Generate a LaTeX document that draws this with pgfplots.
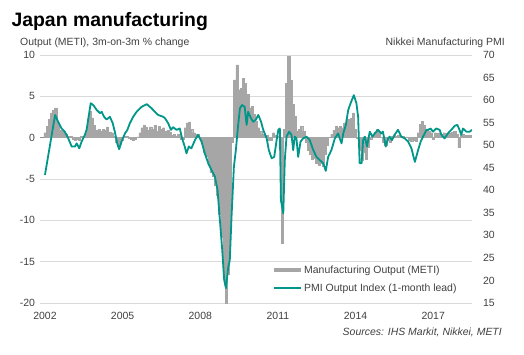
\documentclass[border=0pt]{standalone}
\usepackage{pgfplots}
\usepackage{pgfplotstable}
\pgfplotsset{compat=1.18}
\usepackage{fontspec}
\setmainfont{Liberation Sans}
\definecolor{bargray}{HTML}{A6A6A6}
\definecolor{tealc}{HTML}{00968A}
\definecolor{gridc}{HTML}{D9D9D9}
\definecolor{txt}{HTML}{404040}

% Manufacturing output (METI), 3m-on-3m % change; m = months since Jan 2002
\pgfplotstableread{
m v
0 0.6
1 1.4
2 2.2
3 3.0
4 3.3
5 3.6
6 1.6
7 0.9
8 0.8
9 0.7
10 0.4
11 0.2
12 0.2
13 -0.2
14 -0.3
15 -0.2
16 -0.3
17 0.2
18 0.2
19 0.6
20 2.2
21 3.2
22 2.4
23 1.5
24 0.9
25 1.0
26 0.8
27 1.0
28 0.9
29 1.3
30 0.7
31 0.6
32 0.2
33 -0.6
34 -1.0
35 -0.8
36 -0.3
37 0.2
38 0.2
39 -0.1
40 -0.2
41 -0.3
42 -0.2
43 0.1
44 0.6
45 1.2
46 1.5
47 1.3
48 0.9
49 1.3
50 1.0
51 1.5
52 0.8
53 1.4
54 1.0
55 1.2
56 0.8
57 0.9
58 0.7
59 0.3
60 0.4
61 0.2
62 0.4
63 -0.2
64 -0.2
65 1.2
66 1.8
67 1.9
68 1.0
69 0.6
70 0.4
71 0.4
72 0.1
73 -0.6
74 -1.8
75 -2.3
76 -3.3
77 -4.2
78 -4.7
79 -5.7
80 -7.0
81 -9.3
82 -12.0
83 -16.5
84 -20.0
85 -16.5
86 -11.0
87 -0.5
88 7.0
89 8.8
90 5.8
91 6.0
92 7.2
93 6.6
94 5.2
95 3.6
96 3.8
97 2.8
98 2.0
99 1.2
100 0.8
101 0.4
102 0.3
103 0.3
104 -0.3
105 -0.3
106 0.6
107 0.3
108 0.2
109 -1.5
110 -12.8
111 1.0
112 6.6
113 9.8
114 7.0
115 4.0
116 2.6
117 0.8
118 1.0
119 1.4
120 0.8
121 -0.5
122 -1.5
123 -2.0
124 -2.6
125 -2.5
126 -3.1
127 -3.3
128 -3.1
129 -3.5
130 -2.0
131 -0.9
132 0.0
133 0.4
134 0.9
135 1.4
136 1.2
137 1.4
138 1.2
139 1.8
140 2.2
141 2.2
142 2.3
143 3.0
144 1.0
145 -0.1
146 -1.5
147 -2.7
148 -1.8
149 -2.6
150 -1.2
151 -0.2
152 0.3
153 0.7
154 1.0
155 0.7
156 0.0
157 -0.5
158 -0.9
159 -0.3
160 -0.6
161 0.2
162 0.3
163 0.2
164 0.3
165 0.1
166 0.2
167 0.0
168 0.1
169 -0.3
170 -0.4
171 -0.3
172 -0.4
173 0.6
174 1.6
175 2.0
176 1.5
177 1.0
178 0.8
179 0.6
180 -0.2
181 0.6
182 0.5
183 0.6
184 0.4
185 0.6
186 0.5
187 0.6
188 0.5
189 0.7
190 0.8
191 0.4
192 -1.2
193 0.3
194 0.4
195 0.3
196 0.3
197 0.3
}\outputtable

% PMI Output Index (1-month lead)
\pgfplotstableread{
m p
0 43.4
4.7 56.7
6.1 55.2
7.7 53.7
9.2 53.0
10.8 51.5
12.4 49.7
13.9 49.7
14.7 50.4
15.9 49.3
17.0 50.8
18.5 52.3
19.3 53.4
20.5 57.1
21.2 59.3
22.4 58.9
24.0 57.8
25.5 57.1
26.3 57.4
27.4 56.3
28.6 55.7
30.1 56.3
31.4 54.9
32.4 53.0
33.5 50.4
34.4 49.1
35.5 50.8
37.1 52.6
38.2 53.4
39.4 54.9
40.9 56.3
42.5 57.4
44.8 58.5
47.2 59.1
49.4 58.2
51.0 57.4
52.5 56.7
54.8 56.3
55.6 56.0
57.1 54.9
58.4 53.4
59.4 54.0
61.0 53.4
62.5 53.7
63.6 51.5
64.8 49.7
65.6 48.2
66.7 49.7
67.9 49.3
69.5 51.1
71.0 52.3
72.6 50.8
74.1 48.2
75.7 46.0
77.2 44.5
78.8 43.0
80.0 40.1
81.1 33.4
82.2 26.7
83.1 20.1
83.9 18.3
85.0 23.0
85.7 24.5
86.5 34.1
87.6 45.2
88.5 48.9
89.5 54.1
90.4 58.2
91.4 58.9
92.6 58.5
93.5 54.5
94.2 57.4
95.5 56.0
96.5 55.2
97.7 55.6
98.9 56.7
100.2 55.2
101.2 53.4
102.8 51.5
103.8 48.9
105.1 47.1
106.3 47.4
107.4 51.1
108.2 53.4
108.9 53.7
109.4 37.8
110.5 34.9
111.2 46.7
112.0 51.9
113.2 53.0
114.3 52.3
115.1 48.9
115.8 51.9
116.6 51.5
117.4 47.4
118.5 50.8
119.7 51.5
121.3 51.9
122.8 51.1
124.4 48.9
125.9 47.4
127.4 46.7
129.0 46.0
130.2 44.3
131.3 47.4
132.8 48.9
134.4 51.5
135.9 52.6
137.5 50.4
138.3 52.6
139.5 54.5
140.6 57.8
141.7 59.3
143.2 61.1
144.4 59.3
145.2 56.3
145.9 46.0
146.8 46.0
147.5 51.1
148.3 51.9
149.3 49.7
150.6 53.0
151.8 51.9
152.9 52.6
154.4 53.4
156.0 52.6
156.7 53.0
158.0 49.7
159.1 51.5
159.8 51.9
160.9 51.1
162.1 52.3
163.7 53.4
165.2 51.9
166.8 51.5
168.4 50.8
169.9 49.3
171.5 46.3
173.0 48.9
174.2 50.8
175.3 51.9
176.9 53.4
177.6 53.4
178.8 53.7
179.9 53.0
181.4 53.7
183.0 53.4
183.8 52.3
185.3 51.5
186.8 52.6
188.4 53.4
190.0 54.3
191.2 54.5
192.2 53.4
193.0 52.3
193.8 53.7
195.4 53.0
196.9 53.0
198.0 53.4
}\pmitable

\begin{document}
\begin{tikzpicture}[x=1bp,y=1bp]
\path (0,0) rectangle (524,354);
\node[anchor=base west, font=\fontsize{19.5}{22}\selectfont\bfseries, text=black] at (8,328) {Japan manufacturing};
\node[anchor=base west, font=\fontsize{10.5}{12}\selectfont, text=txt, inner sep=0pt] at (20,309) {Output (METI), 3m-on-3m \% change};
\node[anchor=base east, font=\fontsize{10.5}{12}\selectfont, text=txt, inner sep=0pt] at (505,309) {Nikkei Manufacturing PMI};
\node[anchor=base east, font=\fontsize{10.5}{12}\selectfont\itshape, text=txt, inner sep=0pt] at (502,19) {Sources: IHS Markit, Nikkei, METI};

\begin{axis}[
  at={(40bp,51bp)}, anchor=south west,
  scale only axis, width=432bp, height=248bp,
  xmin=-2.3, xmax=198,
  ymin=-20, ymax=10,
  ytick={-20,-15,...,10},
  xtick={0,36,72,108,144,180},
  xticklabels={2002,2005,2008,2011,2014,2017},
  axis line style={draw=none},
  major tick length=0pt,
  ymajorgrids, major grid style={gridc, line width=0.7bp},
  tick label style={font=\fontsize{10.5}{12}\selectfont, text=txt},
  /pgf/number format/assume math mode=true,
  yticklabel style={xshift=-1.5bp},
  xticklabel style={yshift=-6bp},
  extra y ticks={0}, extra y tick labels={},
  extra y tick style={ymajorgrids=true, major grid style={color=bargray!85!black, line width=1bp}},
]
\addplot[ybar, bar width=1, fill=bargray, draw=bargray, line width=0.4bp] table[x=m, y=v] {\outputtable};
\end{axis}

\begin{axis}[
  at={(40bp,51bp)}, anchor=south west,
  scale only axis, width=432bp, height=248bp,
  xmin=-2.3, xmax=198,
  ymin=15, ymax=70,
  axis y line*=right, hide x axis,
  ytick={15,20,...,70},
  axis line style={draw=none},
  major tick length=0pt,
  tick label style={font=\fontsize{10.5}{12}\selectfont, text=txt},
  /pgf/number format/assume math mode=true,
  yticklabel style={xshift=7.5bp},
  legend style={at={(0.537,0.155)}, anchor=north west, draw=none, fill=none,
    inner sep=0pt, row sep=7bp, font=\fontsize{10.5}{12}\selectfont, text=txt,
    nodes={inner sep=1bp}},
  legend cell align=left,
  legend image code/.code={\draw[#1] (0bp,0bp) -- (27bp,0bp);},
]
\addlegendimage{line width=4bp, bargray}
\addlegendentry{Manufacturing Output (METI)}
\addplot[tealc, line width=1.8bp, line join=round] table[x=m, y=p] {\pmitable};
\addlegendentry{PMI Output Index (1-month lead)}
\end{axis}
\end{tikzpicture}
\end{document}
